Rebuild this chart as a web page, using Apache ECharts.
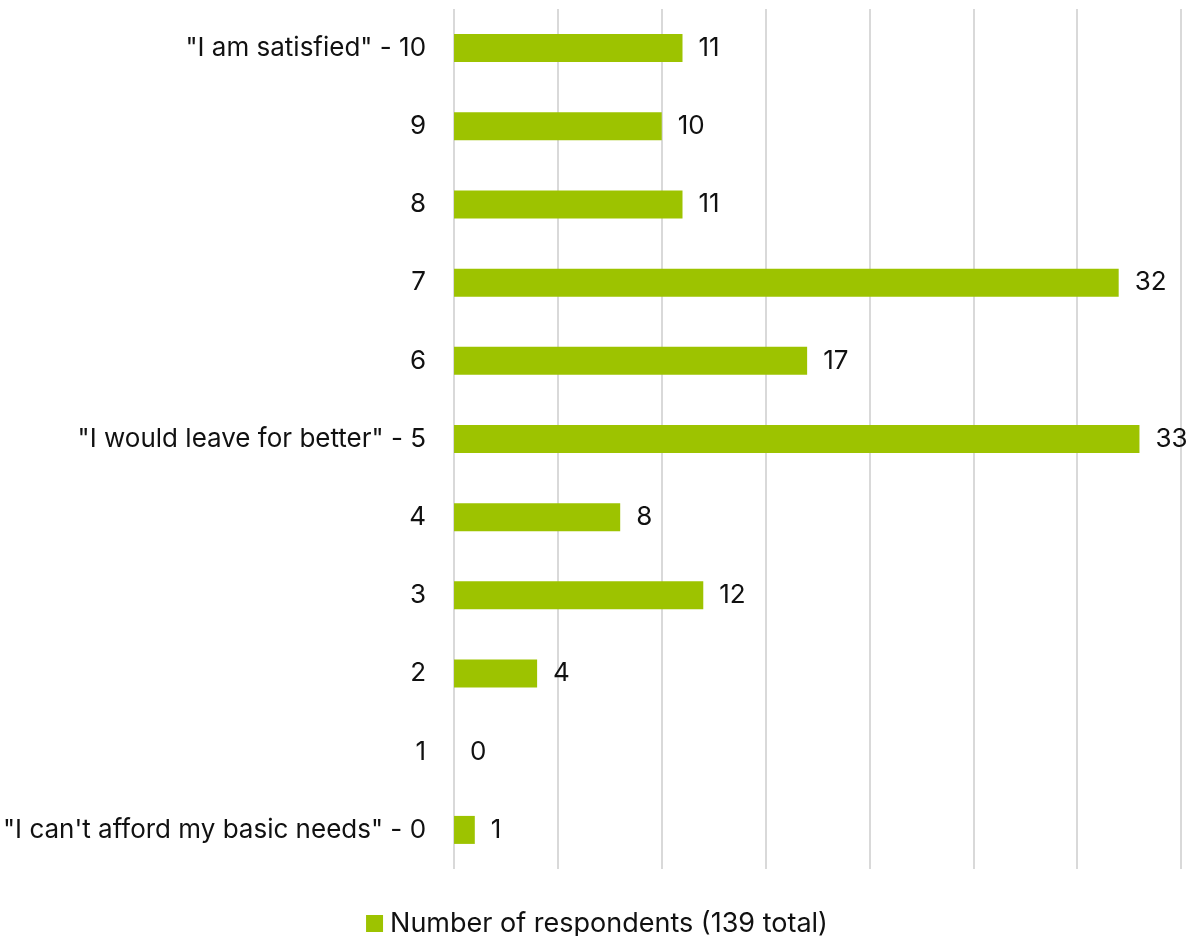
<!DOCTYPE html>
<html>
<head>
<meta charset="utf-8">
<script src="https://cdn.jsdelivr.net/npm/echarts@6/dist/echarts.min.js"></script>
<style>
  html, body { margin: 0; padding: 0; background: #fff; }
  #chart { width: 1194px; height: 936px; }
</style>
</head>
<body>
<div id="chart"></div>
<script>
// categories, bottom to top
var categories = [
  '"I can\'t afford my basic needs" - 0',
  '1', '2', '3', '4',
  '"I would leave for better" - 5',
  '6', '7', '8', '9',
  '"I am satisfied" - 10'
]
var respondents = [1, 0, 4, 12, 8, 33, 17, 32, 11, 10, 11]
var seriesName = 'Number of respondents (139 total)'

var barColor = '#9DC300'
var font = 'Inter, "Noto Sans", sans-serif'

var myChart = echarts.init(document.getElementById('chart'))
myChart.setOption({
  animation: false,
  textStyle: { fontFamily: font },
  grid: { left: 452, right: 13, top: 9, bottom: 67, containLabel: false },
  legend: {
    top: 905,
    left: 'center',
    itemWidth: 17,
    itemHeight: 17,
    icon: 'rect',
    itemGap: 10,
    textStyle: { fontSize: 27, color: '#111', fontFamily: font, padding: [0, 0, 0, 2] },
    data: [seriesName]
  },
  xAxis: {
    type: 'value',
    min: 0,
    max: 35,
    interval: 5,
    axisLabel: { show: false },
    axisLine: { show: false },
    axisTick: { show: false },
    splitLine: { show: true, lineStyle: { color: '#d9d9d9', width: 2 } }
  },
  yAxis: {
    type: 'category',
    data: categories,
    axisTick: { show: false },
    axisLine: { show: false },
    axisLabel: { fontSize: 26, color: '#111', margin: 28, fontFamily: font, padding: [3, 0, 0, 0] }
  },
  series: [{
    name: seriesName,
    type: 'bar',
    data: respondents,
    barWidth: 28,
    itemStyle: { color: barColor },
    label: {
      show: true,
      position: 'right',
      distance: 16,
      fontSize: 26,
      color: '#111',
      fontFamily: font,
      padding: [3, 0, 0, 0]
    }
  }]
})
</script>
</body>
</html>
